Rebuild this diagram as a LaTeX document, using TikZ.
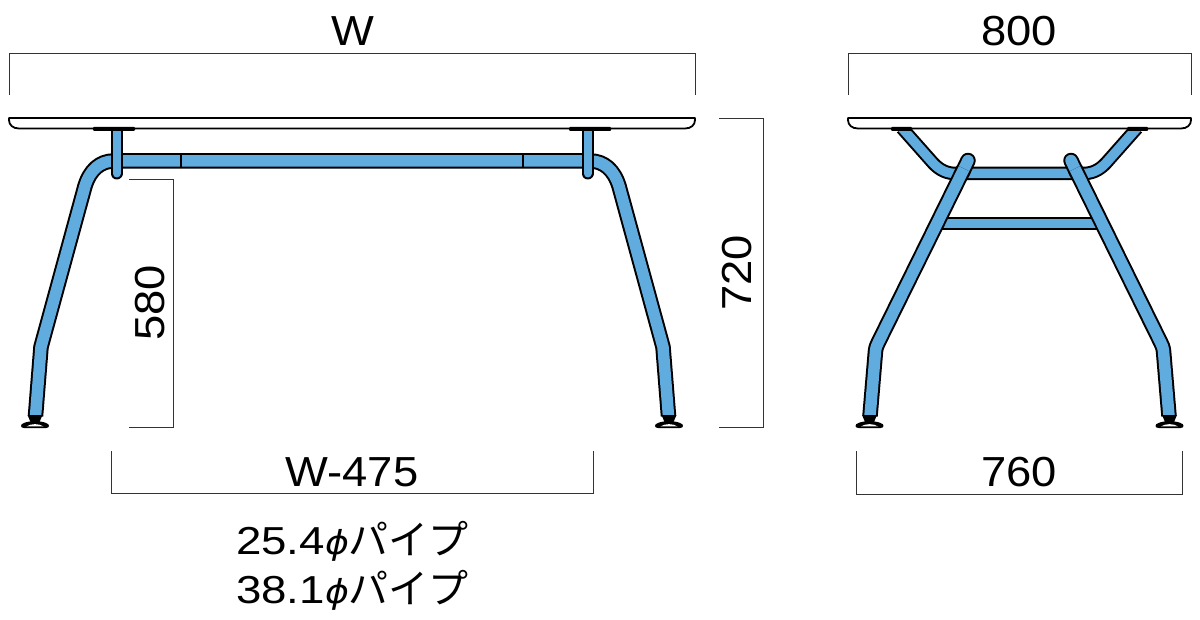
\documentclass[tikz,border=0pt]{standalone}
\usepackage{fontspec}
\setmainfont[FakeStretch=1.08]{Liberation Sans}
\newfontfamily\widefont[FakeStretch=1.17]{Liberation Sans}
\newfontfamily\phifont[FakeStretch=1.1]{DejaVu Sans Oblique}
\newfontfamily\kanafont{Noto Sans CJK JP}
\definecolor{pipeblue}{RGB}{96,172,222}
\tikzset{
  pipe/.style={line width=2pt,double=pipeblue,double distance=11.5pt,line join=round},
  thinpipe/.style={line width=2pt,double=pipeblue,double distance=8pt,line cap=round},
  sidepipe/.style={line width=2pt,double=pipeblue,double distance=9.5pt,line join=round},
  sidecap/.style={line width=2pt,double=pipeblue,double distance=11.5pt,line cap=round},
  sideleg/.style={line width=2pt,double=pipeblue,double distance=11.5pt,line join=round},
  dim/.style={draw=black!80,line width=0.8pt},
  top/.style={draw=black,line width=1.8pt,fill=white,line join=round},
  plate/.style={fill=black,rounded corners=1pt},
  tick/.style={draw=black,line width=2pt},
  label/.style={font=\fontsize{42}{42}\selectfont,inner sep=0pt,text=black},
  note/.style={font=\fontsize{39}{39}\selectfont,inner sep=0pt,text=black,anchor=west},
  foot/.pic={
    \fill[black] (-7.5,-13)--(7.5,-13)--(4.5,-6)--(-4.5,-6)--cycle;
    \fill[black] (-11,-5) .. controls (-5,-7.5) and (5,-7.5) .. (11,-5) .. controls (15,-4) and (15,0) .. (11,0) -- (-11,0) .. controls (-15,0) and (-15,-4) .. (-11,-5) -- cycle;
    \fill[white] (-8.5,-1.6) .. controls (-4,-4.6) and (4,-4.6) .. (8.5,-1.6) -- cycle;
  }
}
\begin{document}
\begin{tikzpicture}[x=1pt,y=-1pt]
\useasboundingbox (0,0) rectangle (1200,620);
\fill[white] (0,0) rectangle (1200,620);

% front view: frame
\draw[pipe] (35.5,416) -- (41,347) -- (85,186) .. controls (90,170) and (100,161) .. (114,161)
  -- (590,161) .. controls (604,161) and (614,170) .. (619,186) -- (663,347) -- (668.5,416);
\draw[tick] (181,154) -- (181,168);
\draw[tick] (523,154) -- (523,168);
\draw[thinpipe] (116.5,125) -- (116.5,173.5);
\draw[thinpipe] (587.5,125) -- (587.5,173.5);

% front view: top
\draw[top] (9,118) -- (695,118) -- (695,120) .. controls (695,125) and (691,128.5) .. (685,128.5)
  -- (19,128.5) .. controls (13,128.5) and (9,125) .. (9,120) -- cycle;
\fill[plate] (93,127) rectangle (135,131);
\fill[plate] (569,127) rectangle (611,131);

% front view: feet
\pic at (35,428) {foot};
\pic at (669,428) {foot};

% side view: frame
\draw[sidepipe] (902,128) -- (933,163) .. controls (940,170.5) and (947,173.5) .. (956,173.5)
  -- (1083,173.5) .. controls (1092,173.5) and (1099,170.5) .. (1106,163) -- (1137,128);
\draw[sidepipe] (940,223.5) -- (1099,223.5);
\draw[sidecap] (968,160.5) -- (962,173);
\draw[sidecap] (1071,160.5) -- (1077,173);
\draw[sideleg] (964,168.7) -- (878.5,342) .. controls (877,345) and (876,347) .. (875.5,351) -- (870,416);
\draw[sideleg] (1075,168.7) -- (1160.5,342) .. controls (1162,345) and (1163,347) .. (1163.5,351) -- (1169,416);

% side view: top
\draw[top] (848,118) -- (1191,118) -- (1191,120) .. controls (1191,125) and (1187,128.5) .. (1181,128.5)
  -- (858,128.5) .. controls (852,128.5) and (848,125) .. (848,120) -- cycle;
\fill[plate] (891,127) rectangle (912,131);
\fill[plate] (1127,127) rectangle (1148,131);
\pic at (869.5,428) {foot};
\pic at (1169.5,428) {foot};

% dimension lines
\draw[dim] (9,95) -- (9,53) -- (695,53) -- (695,95);
\draw[dim] (848,95) -- (848,53) -- (1191,53) -- (1191,95);
\draw[dim] (719,118) -- (763,118) -- (763,427) -- (719,427);
\draw[dim] (129,179) -- (173,179) -- (173,427) -- (129,427);
\draw[dim] (111,451) -- (111,493.5) -- (593,493.5) -- (593,451);
\draw[dim] (856,451) -- (856,494) -- (1182,494) -- (1182,451);

% labels
\node[label] (lw) at (353,31) {W};
\node[label] (l800) at (1019,31) {800};
\node[label,rotate=90] (l720) at (737,273) {720};
\node[label,rotate=90] (l580) at (150,303) {580};
\node[label] (lw475) at (352,472) {W-475};
\node[label] (l760) at (1019,472) {760};
\node[note] (n1) at (236,541) {{\widefont 25.4}{\phifont\fontsize{33}{33}\selectfont ϕ}{\kanafont\fontsize{40}{40}\selectfont パイプ}};
\node[note] (n2) at (236,590) {{\widefont 38.1}{\phifont\fontsize{33}{33}\selectfont ϕ}{\kanafont\fontsize{40}{40}\selectfont パイプ}};
\end{tikzpicture}
\end{document}
